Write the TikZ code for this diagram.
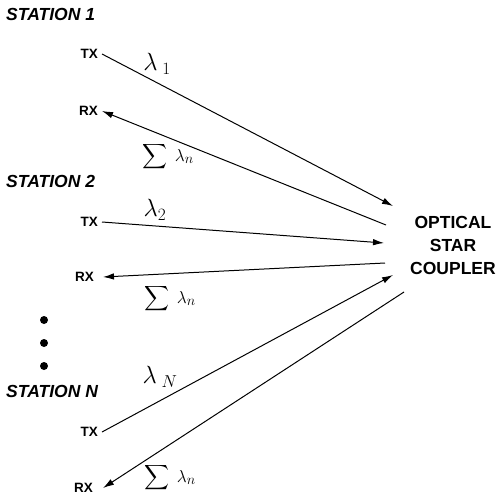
\documentclass[tikz,border=0pt]{standalone}
\usepackage{amsmath}
\usepackage{fontspec}
\newfontfamily\arial{Liberation Sans}
\usetikzlibrary{arrows.meta}
\begin{document}
\begin{tikzpicture}[x=1pt,y=-1pt,
  station/.style={font=\arial\bfseries\itshape\fontsize{17.5}{20}\selectfont, anchor=west, inner sep=0pt},
  port/.style={font=\arial\bfseries\fontsize{13.5}{15}\selectfont, anchor=east, inner sep=0pt},
  coupler/.style={font=\arial\bfseries\fontsize{17.5}{23}\selectfont, align=center, inner sep=0pt},
  lab/.style={font=\fontsize{24}{26}\selectfont, inner sep=0pt},
  slab/.style={font=\fontsize{19}{22}\selectfont, inner sep=0pt},
  fiber/.style={line width=1pt},
  tip/.style={-{Latex[length=11pt,width=6.5pt]}},
  dot/.style={circle, fill=black, inner sep=0pt, minimum size=8pt}]
\useasboundingbox (0,0) rectangle (498,498);

\node[station] (s1) at (6,14) {STATION 1};
\node[station] (s2) at (6,181) {STATION 2};
\node[station] (sn) at (6,391) {STATION N};

\node[port] (tx1) at (98,54) {TX};
\node[port] (rx1) at (98,111) {RX};
\node[port] (tx2) at (98,222) {TX};
\node[port] (rx2) at (94,277) {RX};
\node[port] (txn) at (98,432) {TX};
\node[port] (rxn) at (93,488) {RX};

\node[coupler] (oc) at (453,245) {OPTICAL\\STAR\\COUPLER};

\coordinate (a1) at (393,206);
\coordinate (b1) at (386,225);
\coordinate (a2) at (384,243);
\coordinate (b2) at (385,263);
\coordinate (an) at (393,275);
\coordinate (bn) at (404,292);

\draw[fiber,tip] ([xshift=4pt]tx1.east) -- (a1);
\draw[fiber,tip] (b1) -- ([xshift=4pt]rx1.east);
\draw[fiber,tip] ([xshift=4pt]tx2.east) -- (a2);
\draw[fiber,tip] (b2) -- ([xshift=9pt]rx2.east);
\draw[fiber,tip] ([xshift=4pt]txn.east) -- (an);
\draw[fiber,tip] (bn) -- ([xshift=10pt]rxn.east);

\node[dot] (d1) at (44,320) {};
\node[dot] (d2) at (44,343) {};
\node[dot] (d3) at (44,366) {};

\node[lab] (l1) at (157,64) {$\lambda_{\;1}$};
\node[slab] (s1l) at (168,157) {$\displaystyle\sum\;\lambda_n$};
\node[lab] (l2) at (155,210) {$\lambda_{2}$};
\node[slab] (s2l) at (170,299) {$\displaystyle\sum\;\lambda_n$};
\node[lab] (ln) at (160,377) {$\lambda_{\;N}$};
\node[slab] (snl) at (170,478) {$\displaystyle\sum\;\lambda_n$};
\end{tikzpicture}
\end{document}
